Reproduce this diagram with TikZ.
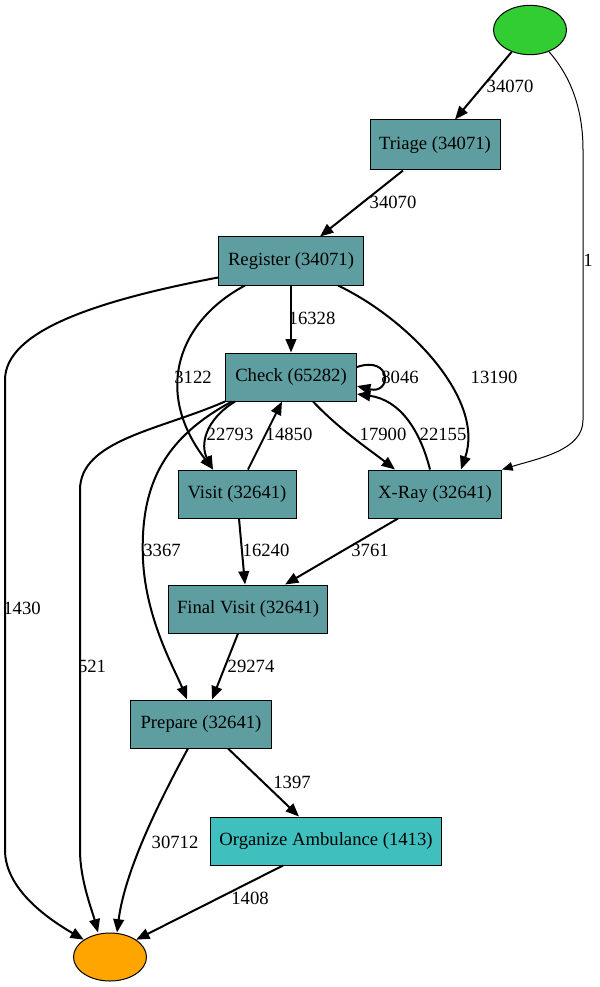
\documentclass[tikz,border=0pt]{standalone}
\usepackage{fontspec}
\setmainfont{Liberation Serif}
\usetikzlibrary{arrows.meta,shapes.geometric,calc}
\definecolor{boxteal}{HTML}{5F9EA0}
\definecolor{boxturq}{HTML}{40BFBF}
\definecolor{startgreen}{HTML}{32CD32}
\definecolor{endorange}{HTML}{FFA500}
\tikzset{
  act/.style={draw=black, line width=0.75pt, fill=boxteal, minimum height=36pt, inner sep=2pt, font=\fontsize{14pt}{16pt}\selectfont},
  terminal/.style={ellipse, draw=black, line width=0.75pt, minimum width=54.75pt, minimum height=37pt, inner sep=0pt},
  flow/.style={line width=1.5pt, -{Triangle[length=10pt,width=8pt]}},
  thinflow/.style={line width=0.75pt, -{Triangle[length=8pt,width=6.5pt]}},
  lbl/.style={inner sep=0pt, font=\fontsize{14pt}{16pt}\selectfont}
}
\begin{document}
\begin{tikzpicture}[x=0.75pt,y=-0.75pt]
\useasboundingbox (0,0) rectangle (599,987);
% nodes
\node[terminal, fill=startgreen] (start) at (530,30) {};
\node[terminal, fill=endorange, minimum height=36pt] (end) at (110,957) {};
\node[act, minimum width=97.5pt, minimum height=37.5pt] (triage) at (435,145) {Triage (34071)};
\node[act, minimum width=108.75pt] (reg) at (291,261) {Register (34071)};
\node[act, minimum width=98.25pt] (check) at (291,377) {Check (65282)};
\node[act, minimum width=88.5pt] (visit) at (237,494) {Visit (32641)};
\node[act, minimum width=99.75pt] (xray) at (435,494) {X-Ray (32641)};
\node[act, minimum width=119.25pt] (final) at (248,609) {Final Visit (32641)};
\node[act, minimum width=105.75pt] (prep) at (201,724) {Prepare (32641)};
\node[act, fill=boxturq, minimum width=173.25pt] (org) at (326,841) {Organize Ambulance (1413)};
% edges
\draw[flow] (start) -- ($(triage.north)+(20,0)$);
\draw[thinflow] (start) .. controls (565,70) and (583,100) .. (583,150) -- (583,420) .. controls (583,450) and (540,458) .. (xray.north east);
\draw[flow] (triage) -- ($(reg.north)+(29,0)$);
\draw[flow] (reg) -- (check);
\draw[flow] ($(reg.south)+(-46,0)$) .. controls (180,320) and (152,390) .. ($(visit.north)+(-24,0)$);
\draw[flow] ($(reg.south)+(47,0)$) .. controls (410,320) and (485,400) .. ($(xray.north)+(26,0)$);
\draw[flow] ($(reg.south west)+(0,-8)$) .. controls (100,300) and (5,330) .. (5,380) -- (5,850) .. controls (5,890) and (50,920) .. (end.north west);
\draw[flow] ($(check.east)+(0,-10)$) .. controls (392,355) and (392,395) .. ($(check.east)+(0,9)$);
\draw[flow] ($(check.south)+(-56,0)$) .. controls (205,420) and (200,445) .. ($(visit.north)+(-24,0)$);
\draw[flow] ($(visit.north)+(11,0)$) -- ($(check.south)+(-9,0)$);
\draw[flow] ($(check.south)+(22,0)$) .. controls (340,430) and (370,450) .. ($(xray.north)+(-40,0)$);
\draw[flow] ($(xray.north)+(-5,0)$) .. controls (420,430) and (400,400) .. ($(check.east)+(0,17)$);
\draw[flow] (check.south west) .. controls (160,430) and (80,440) .. (80,490) -- (80,850) .. controls (80,880) and (92,910) .. ($(end.north)+(-12,0)$);
\draw[flow] ($(check.south west)+(7,0)$) .. controls (160,440) and (140,490) .. (143,560) .. controls (146,620) and (175,670) .. ($(prep.north)+(-14,0)$);
\draw[flow] ($(visit.south)+(2,0)$) -- ($(final.north)+(-3,0)$);
\draw[flow] ($(xray.south)+(-37,0)$) -- ($(final.north)+(37,0)$);
\draw[flow] ($(final.south)+(-10,0)$) -- ($(prep.north)+(11,0)$);
\draw[flow] ($(prep.south)+(27,0)$) -- ($(org.north)+(-27,0)$);
\draw[flow] ($(prep.south)+(-13,0)$) .. controls (160,800) and (125,870) .. ($(end.north)+(7,0)$);
\draw[flow] ($(org.south)+(-43,0)$) -- (end.north east);
% labels
\node[lbl] (l1) at (510,86) {34070};
\node[lbl] (l2) at (393,202) {34070};
\node[lbl] (l3) at (312,318) {16328};
\node[lbl] (l4) at (193,377) {3122};
\node[lbl] (l5) at (494,377) {13190};
\node[lbl] (l6) at (588,260) {1};
\node[lbl] (l7) at (400,377) {8046};
\node[lbl] (l8) at (230,434) {22793};
\node[lbl] (l9) at (289,434) {14850};
\node[lbl] (l10) at (383,434) {17900};
\node[lbl] (l11) at (443,434) {22155};
\node[lbl] (l12) at (162,550) {3367};
\node[lbl] (l13) at (266,550) {16240};
\node[lbl] (l14) at (370,550) {3761};
\node[lbl] (l15) at (22,608) {1430};
\node[lbl] (l16) at (92,666) {521};
\node[lbl] (l17) at (251,666) {29274};
\node[lbl] (l18) at (292,782) {1397};
\node[lbl] (l19) at (175,842) {30712};
\node[lbl] (l20) at (250,898) {1408};
\end{tikzpicture}
\end{document}
